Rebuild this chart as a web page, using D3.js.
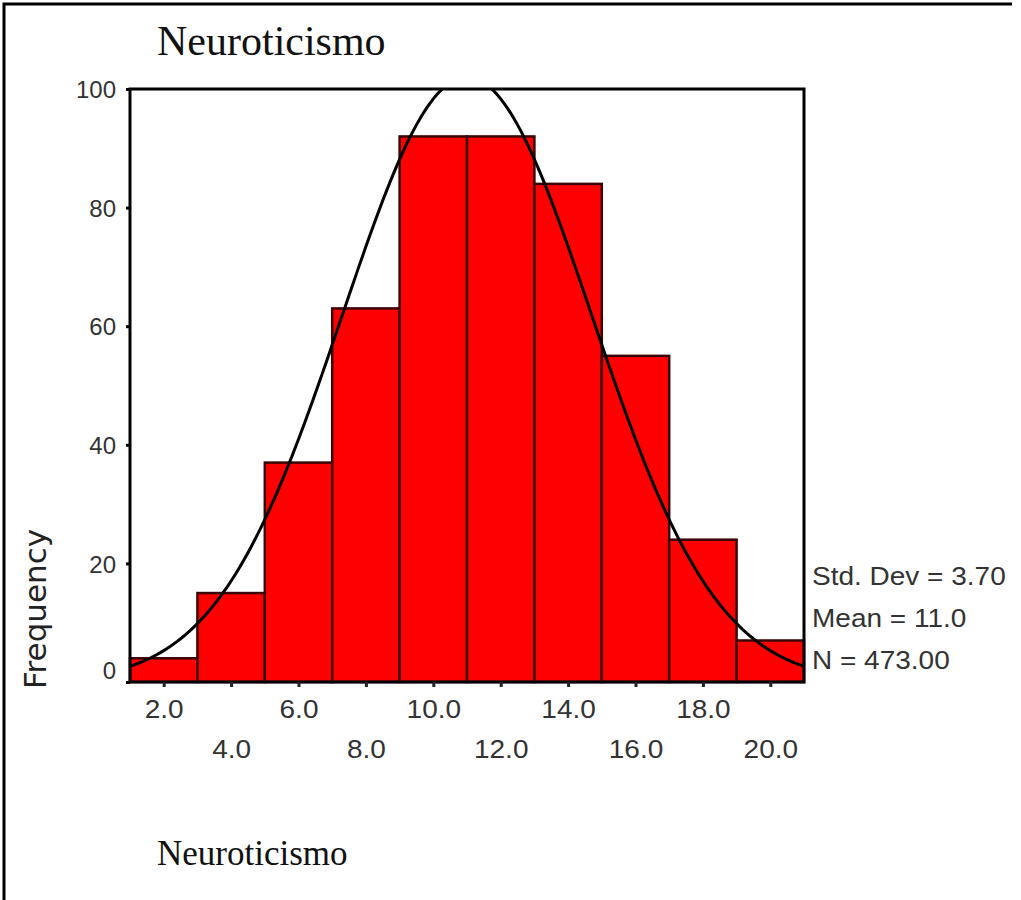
<!DOCTYPE html>
<html>
<head>
<meta charset="utf-8">
<script src="https://cdn.jsdelivr.net/npm/d3@7"></script>
<style>
  html, body { margin: 0; padding: 0; background: #fff; }
  svg { display: block; }
</style>
</head>
<body>
<svg id="chart" width="1021" height="900"></svg>
<script>
// Histogram bins (midpoints) and counts
const binMids = [2, 4, 6, 8, 10, 12, 14, 16, 18, 20];
const counts = [4, 15, 37, 63, 92, 92, 84, 55, 24, 7];
const binWidth = 2;
const yTicks = [0, 20, 40, 60, 80, 100];
const xTickLabels = ["2.0", "4.0", "6.0", "8.0", "10.0", "12.0", "14.0", "16.0", "18.0", "20.0"];
const statLabels = ["Std. Dev = 3.70", "Mean = 11.0", "N = 473.00"];
const stdDev = 3.70, mean = 11.0, nTotal = 473;

const sans = "'Liberation Sans', Arial, sans-serif";
const serif = "'Liberation Serif', 'Times New Roman', serif";

const svg = d3.select("#chart");
const plotL = 130, plotR = 804, plotT = 89, plotB = 682;

const x = d3.scaleLinear().domain([1, 21]).range([plotL, plotR]);
const y = d3.scaleLinear().domain([0, 100]).range([plotB, plotT]);

// outer frame (top and left edges)
svg.append("path")
  .attr("d", `M4,900 L4,4 L1012,4`)
  .attr("fill", "none").attr("stroke", "#000").attr("stroke-width", 3);

// title
svg.append("text")
  .attr("x", 157).attr("y", 55)
  .attr("font-family", serif)
  .attr("font-size", 42).attr("fill", "#111")
  .text("Neuroticismo");

// bottom variable label
svg.append("text")
  .attr("x", 157).attr("y", 865)
  .attr("font-family", serif)
  .attr("font-size", 35).attr("fill", "#111")
  .text("Neuroticismo");

// y axis title
svg.append("text")
  .attr("transform", "translate(46,609) rotate(-90)")
  .attr("text-anchor", "middle")
  .attr("font-family", "'DejaVu Sans', sans-serif")
  .attr("font-size", 31).attr("fill", "#222")
  .text("Frequency");

// clip for plot area
svg.append("clipPath").attr("id", "plotClip")
  .append("rect").attr("x", plotL).attr("y", plotT).attr("width", plotR - plotL).attr("height", plotB - plotT);

// bars
svg.append("g").selectAll("rect")
  .data(binMids)
  .join("rect")
  .attr("x", (d) => x(d - binWidth / 2))
  .attr("y", (d, i) => y(counts[i]))
  .attr("width", (d) => x(d + binWidth / 2) - x(d - binWidth / 2))
  .attr("height", (d, i) => y(0) - y(counts[i]))
  .attr("fill", "#ff0000")
  .attr("stroke", "#3a0505")
  .attr("stroke-width", 2.5);

// fitted normal curve
const curvePts = d3.range(1, 21.01, 0.1).map((v) => {
  const z = (v - mean) / stdDev;
  const f = nTotal * binWidth / (stdDev * Math.sqrt(2 * Math.PI)) * Math.exp(-0.5 * z * z);
  return [v, f];
});
svg.append("path")
  .datum(curvePts)
  .attr("clip-path", "url(#plotClip)")
  .attr("fill", "none")
  .attr("stroke", "#000")
  .attr("stroke-width", 3)
  .attr("d", d3.line().x((d) => x(d[0])).y((d) => y(d[1])));

// plot frame
svg.append("rect")
  .attr("x", plotL).attr("y", plotT).attr("width", plotR - plotL).attr("height", plotB - plotT)
  .attr("fill", "none").attr("stroke", "#000").attr("stroke-width", 3);

// y axis
const yAxis = svg.append("g")
  .attr("transform", `translate(${plotL},0)`)
  .call(d3.axisLeft(y).tickValues(yTicks).tickSize(4).tickPadding(10).tickFormat(d3.format("d")));
yAxis.select(".domain").remove();
yAxis.selectAll(".tick line").attr("stroke", "#000").attr("stroke-width", 3);
yAxis.selectAll(".tick text")
  .attr("font-family", sans)
  .attr("font-size", 24).attr("fill", "#333")
  .attr("dy", (d) => d === 0 ? "-4px" : "8.6px");

// x axis with staggered labels
const xAxis = svg.append("g")
  .attr("transform", `translate(0,${plotB})`)
  .call(d3.axisBottom(x).tickValues(binMids).tickSize(5).tickPadding(0)
    .tickFormat((d, i) => xTickLabels[i]));
xAxis.select(".domain").remove();
xAxis.selectAll(".tick line").attr("stroke", "#222").attr("stroke-width", 3);
xAxis.selectAll(".tick text")
  .attr("font-family", sans)
  .attr("font-size", 25).attr("fill", "#333")
  .attr("y", (d, i) => i % 2 === 0 ? 36 : 76)
  .attr("dy", 0)
  .attr("transform", "scale(1.12,1)");

// summary statistics
svg.append("g").selectAll("text")
  .data(statLabels)
  .join("text")
  .attr("transform", (d, i) => `translate(812,${585 + i * 42}) scale(1.12,1)`)
  .attr("font-family", sans)
  .attr("font-size", 25).attr("fill", "#333")
  .text((d) => d);
</script>
</body>
</html>
